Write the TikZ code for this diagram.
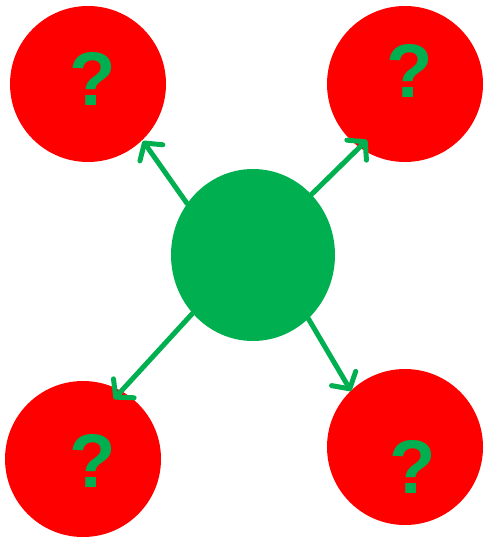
\documentclass[tikz,border=0pt]{standalone}
\usepackage{fontspec}
\setmainfont{Liberation Sans}
\usetikzlibrary{shapes.geometric,arrows.meta}
\definecolor{offgreen}{HTML}{00B050}
\definecolor{offred}{HTML}{FF0000}
\tikzset{
  redball/.style={circle, fill=offred, draw=none, minimum size=156pt, inner sep=0pt},
  greenball/.style={ellipse, fill=offgreen, draw=none, minimum width=164pt, minimum height=172pt, inner sep=0pt},
  qmark/.style={text=offgreen, font=\fontsize{76pt}{76pt}\selectfont\bfseries, inner sep=0pt},
  link/.style={draw=offgreen, line width=5pt, line cap=round, -{Straight Barb[length=12pt,width=28pt,round]}}
}
\begin{document}
\begin{tikzpicture}[x=1pt,y=-1pt]
\useasboundingbox (0,0) rectangle (484,537);
\node[redball] (r1) at (88,84) {};
\node[redball] (r2) at (405,84) {};
\node[redball] (r3) at (83,459) {};
\node[redball] (r4) at (405,447) {};
\node[greenball] (g) at (253,255) {};
\node[qmark] (q1) at (93,79) {?};
\node[qmark] (q2) at (410,71) {?};
\node[qmark] (q3) at (93,461) {?};
\node[qmark] (q4) at (413,467) {?};
\coordinate (t1) at (143,141);
\coordinate (t2) at (367,140);
\coordinate (t3) at (114,399);
\coordinate (t4) at (351,391);
\draw[link] (g.142) -- (t1);
\draw[link] (g.46) -- (t2);
\draw[link] (g.-136) -- (t3);
\draw[link] (g.-49) -- (t4);
\end{tikzpicture}
\end{document}
